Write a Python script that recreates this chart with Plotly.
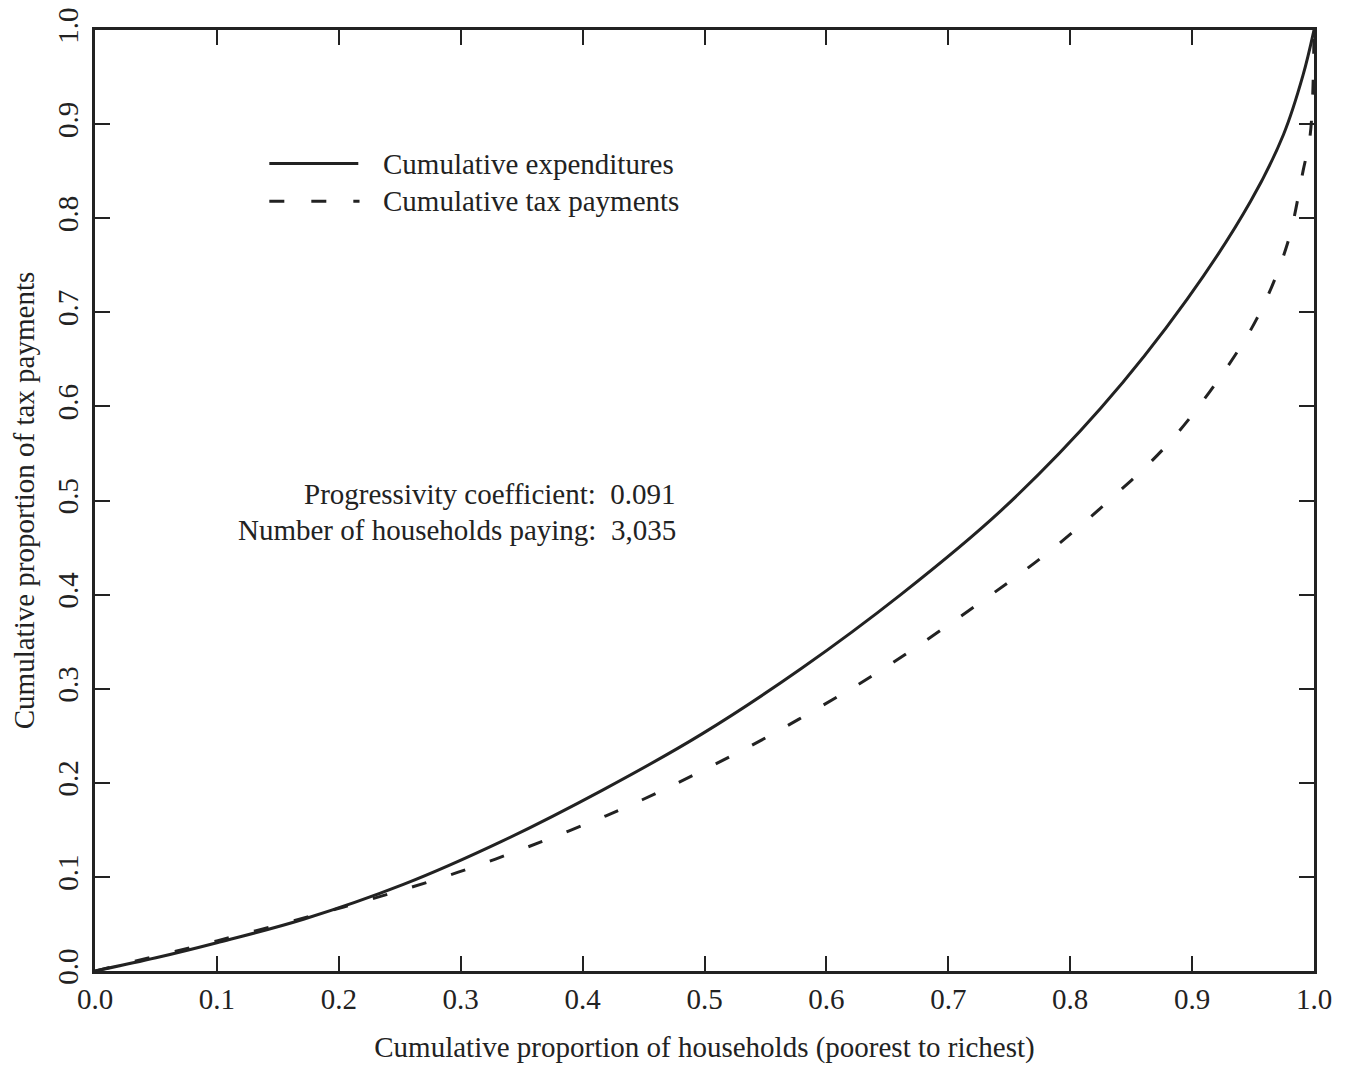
import plotly.graph_objects as go

# Cumulative expenditures (solid)
exp_x = [0.0, 0.05, 0.1, 0.171, 0.253, 0.334, 0.416, 0.498, 0.58, 0.661, 0.743, 0.825, 0.896, 0.948, 0.975, 0.991, 1.0]
exp_y = [0.0, 0.014, 0.030, 0.055, 0.092, 0.138, 0.192, 0.252, 0.322, 0.400, 0.489, 0.598, 0.714, 0.818, 0.889, 0.952, 1.0]

# Cumulative tax payments (dashed)
tax_x = [0.0, 0.1, 0.204, 0.298, 0.389, 0.449, 0.536, 0.594, 0.649, 0.731,
         0.782, 0.831, 0.878, 0.918, 0.953, 0.978, 0.991, 0.997, 1.0]
tax_y = [0.0, 0.032, 0.068, 0.105, 0.149, 0.182, 0.238, 0.28, 0.323, 0.396,
         0.445, 0.499, 0.557, 0.622, 0.693, 0.772, 0.85, 0.89, 1.0]

tick_vals = [0.0, 0.1, 0.2, 0.3, 0.4, 0.5, 0.6, 0.7, 0.8, 0.9, 1.0]
tick_text = ["0.0", "0.1", "0.2", "0.3", "0.4", "0.5", "0.6", "0.7", "0.8", "0.9", "1.0"]

series_names = ["Cumulative expenditures", "Cumulative tax payments"]
notes = ["Progressivity coefficient:  0.091", "Number of households paying:  3,035"]

INK = "#222222"
FONT = "Liberation Serif, Times New Roman, serif"
FS = 29
DASH = "15px,26px"

fig = go.Figure()
fig.add_trace(go.Scatter(x=exp_x, y=exp_y, mode="lines", name=series_names[0],
                         line=dict(color=INK, width=3, shape="spline", smoothing=1.0),
                         showlegend=False))
fig.add_trace(go.Scatter(x=tax_x, y=tax_y, mode="lines", name=series_names[1],
                         line=dict(color=INK, width=3, dash=DASH, shape="spline", smoothing=1.0),
                         showlegend=False))

axis_common = dict(
    range=[0, 1], tickmode="array", tickvals=tick_vals, ticktext=tick_text,
    ticks="inside", ticklen=15, tickwidth=2, tickcolor=INK,
    showline=True, linewidth=3, linecolor=INK, mirror="ticks",
    showgrid=False, zeroline=False, automargin=False, ticklabeloverflow="allow",
    tickfont=dict(family=FONT, size=FS, color=INK),
    title_font=dict(family=FONT, size=FS, color=INK),
)

fig.update_xaxes(**axis_common, title_text="Cumulative proportion of households (poorest to richest)",
                 title_standoff=35, ticklabelstandoff=0)
fig.update_yaxes(**axis_common, title_text="Cumulative proportion of tax payments",
                 tickangle=-90, title_standoff=10, ticklabelstandoff=2)

# Legend (drawn manually to match the long line samples)
fig.add_shape(type="line", xref="paper", yref="paper", x0=0.143, x1=0.216, y0=0.858, y1=0.858,
              line=dict(color=INK, width=3))
fig.add_shape(type="line", xref="paper", yref="paper", x0=0.143, x1=0.217, y0=0.818, y1=0.818,
              line=dict(color=INK, width=3, dash="15px,27px"))
fig.add_annotation(xref="paper", yref="paper", x=0.235, y=0.858, text=series_names[0],
                   xanchor="left", yanchor="middle", showarrow=False,
                   font=dict(family=FONT, size=FS, color=INK))
fig.add_annotation(xref="paper", yref="paper", x=0.235, y=0.818, text=series_names[1],
                   xanchor="left", yanchor="middle", showarrow=False,
                   font=dict(family=FONT, size=FS, color=INK))

fig.add_annotation(xref="paper", yref="paper", x=0.478, y=0.507, text=notes[0],
                   xanchor="right", yanchor="middle", showarrow=False,
                   font=dict(family=FONT, size=FS, color=INK))
fig.add_annotation(xref="paper", yref="paper", x=0.478, y=0.469, text=notes[1],
                   xanchor="right", yanchor="middle", showarrow=False,
                   font=dict(family=FONT, size=FS, color=INK))

fig.update_layout(
    width=1339, height=1056,
    margin=dict(l=87, r=33, t=22, b=93),
    paper_bgcolor="white", plot_bgcolor="white",
    font=dict(family=FONT, color=INK),
)

fig.write_html("out.html")
